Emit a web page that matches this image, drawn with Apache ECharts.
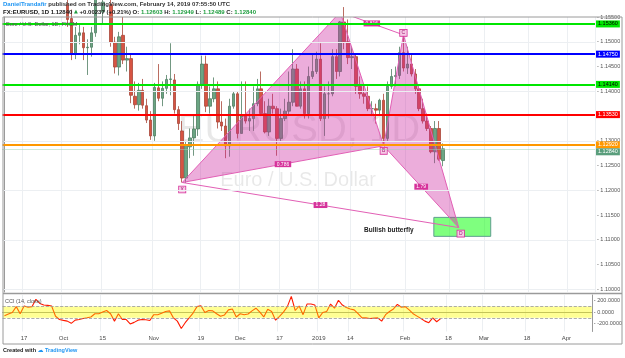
<!DOCTYPE html>
<html><head><meta charset="utf-8">
<script src="https://cdn.jsdelivr.net/npm/echarts@6/dist/echarts.min.js"></script>
<style>html,body{margin:0;padding:0;background:#fff}#c{width:625px;height:358px}</style>
</head><body><div id="c"></div>
<script>
// ---------- DATA ----------
const firstDate = '2018-09-10';
const barCount = 150;               // visible daily slots incl. future space
const holidays = ['2018-12-25', '2019-01-01'];

const tickDates  = ['2018-09-17','2018-10-01','2018-10-15','2018-11-01','2018-11-19','2018-12-03','2018-12-17','2019-01-02','2019-01-14','2019-02-01','2019-02-18','2019-03-01','2019-03-18','2019-04-01'];
const tickLabels = ['17','Oct','15','Nov','19','Dec','17','2019','14','Feb','18','Mar','18','Apr'];

const opens  = [1.1560,1.1595,1.1600,1.1625,1.1690,1.1625,1.1685,1.1665,1.1670,1.1775,1.1750,1.1745,1.1765,1.1740,1.1640,
  1.1605,1.1575,1.1547,1.1476,1.1513,1.1518,1.1488,1.1489,1.1518,1.1595,1.1560,1.1580,1.1575,1.1499,1.1449,1.1513,1.1463,1.1466,1.1390,1.1373,1.1402,1.1371,1.1342,
  1.1310,1.1407,1.1386,1.1406,1.1424,1.1423,1.1363,1.1320,1.1225,1.1288,1.1306,1.1324,1.1414,1.1455,1.1370,1.1385,1.1405,1.1338,1.1330,1.1290,1.1370,1.1395,
  1.1315,1.1350,1.1340,1.1345,1.1375,1.1405,1.1355,1.1318,1.1370,1.1365,1.1305,1.1345,1.1360,1.1378,1.1445,1.1370,1.1405,1.1355,1.1430,1.1440,
  1.1465,1.1345,1.1395,1.1395,1.1470,1.1440,1.1540,1.1500,1.1468,1.1470,1.1410,1.1395,1.1390,1.1365,1.1365,1.1362,1.1382,1.1305,1.1410,1.1430,1.1432,1.1478,
  1.1447,1.1455,1.1435,1.1405,1.1365,1.1340,1.1325,1.1278,1.1325,1.12603];
const highs  = [1.1610,1.1615,1.1630,1.1700,1.1720,1.1690,1.1700,1.1700,1.1790,1.1790,1.1815,1.1780,1.1795,1.1750,1.1660,
  1.1625,1.1590,1.1565,1.1530,1.1535,1.1530,1.1505,1.1530,1.1600,1.1605,1.1590,1.1620,1.1585,1.1510,1.1520,1.1550,1.1490,1.1475,1.1420,1.1417,1.1425,1.1385,1.1360,
  1.1417,1.1455,1.1420,1.1433,1.1497,1.1435,1.1370,1.1340,1.1300,1.1325,1.1350,1.1420,1.1472,1.1472,1.1410,1.1428,1.1420,1.1380,1.1345,1.1385,1.1400,1.1400,
  1.1420,1.1420,1.1365,1.1410,1.1425,1.1440,1.1380,1.1385,1.1395,1.1370,1.1365,1.1385,1.1440,1.1485,1.1455,1.1420,1.1420,1.1450,1.1475,1.1480,
  1.1497,1.1410,1.1420,1.1485,1.1485,1.1542,1.1570,1.1545,1.1490,1.1475,1.1430,1.1415,1.1410,1.1380,1.1375,1.1385,1.1395,1.1420,1.1445,1.1450,1.1490,1.1514,
  1.1490,1.1475,1.1445,1.1410,1.1385,1.1355,1.1330,1.1340,1.1340,1.12949];
const lows   = [1.1560,1.1565,1.1570,1.1590,1.1620,1.1610,1.1640,1.1650,1.1665,1.1730,1.1735,1.1725,1.1720,1.1630,1.1595,
  1.1565,1.1530,1.1463,1.1465,1.1495,1.1463,1.1433,1.1470,1.1510,1.1555,1.1535,1.1565,1.1490,1.1436,1.1432,1.1455,1.1440,1.1376,1.1365,1.1361,1.1365,1.1336,1.1302,
  1.1300,1.1380,1.1370,1.1395,1.1392,1.1355,1.1322,1.1216,1.1215,1.1265,1.1270,1.1310,1.1405,1.1358,1.1355,1.1378,1.1325,1.1320,1.1265,1.1268,1.1365,1.1305,
  1.1315,1.1335,1.1320,1.1320,1.1370,1.1350,1.1315,1.1310,1.1355,1.1270,1.1300,1.1340,1.1350,1.1370,1.1375,1.1365,1.1345,1.1345,1.1425,1.1435,
  1.1340,1.1310,1.1345,1.1390,1.1425,1.1430,1.1485,1.1455,1.1445,1.1395,1.1385,1.1375,1.1360,1.1350,1.1335,1.1350,1.1290,1.1300,1.1405,1.1410,1.1425,1.1440,
  1.1435,1.1430,1.1395,1.1360,1.1335,1.1320,1.1275,1.1255,1.1260,1.12489];
const closes = [1.1595,1.1600,1.1625,1.1690,1.1625,1.1685,1.1665,1.1670,1.1775,1.1750,1.1745,1.1765,1.1740,1.1640,1.1605,
  1.1575,1.1545,1.1476,1.1513,1.1518,1.1488,1.1489,1.1518,1.1595,1.1560,1.1580,1.1575,1.1499,1.1449,1.1510,1.1463,1.1466,1.1392,1.1373,1.1402,1.1372,1.1342,1.1310,
  1.1408,1.1386,1.1406,1.1424,1.1425,1.1363,1.1335,1.1225,1.1291,1.1306,1.1324,1.1414,1.1455,1.1370,1.1385,1.1405,1.1338,1.1330,1.1290,1.1370,1.1395,1.1315,
  1.1350,1.1340,1.1345,1.1375,1.1405,1.1355,1.1318,1.1370,1.1365,1.1305,1.1345,1.1360,1.1378,1.1445,1.1370,1.1405,1.1355,1.1430,1.1440,1.1465,
  1.1345,1.1395,1.1395,1.1470,1.1440,1.1540,1.1500,1.1468,1.1470,1.1410,1.1395,1.1390,1.1365,1.1365,1.1362,1.1382,1.1305,1.1410,1.1430,1.1432,1.1478,1.1447,
  1.1455,1.1435,1.1405,1.1365,1.1340,1.1325,1.1278,1.1325,1.1263,1.12840];

const cci = [-62,-34,-6,96,-28,107,85,96,225,152,124,118,107,-73,-130,-145,-158,-197,-141,-130,-113,-100,-85,-28,-28,0,28,-28,-158,-28,
  -130,-130,-208,-180,-141,-130,-135,-146,-45,-45,-20,11,22,-101,-158,-287,-186,-101,-17,96,113,-6,28,22,-28,-73,-50,39,56,-85,
  -28,-45,-34,22,68,0,-85,51,11,-141,-73,0,96,276,28,107,-45,141,141,124,-101,-6,11,141,68,208,124,80,56,39,
  -28,-101,-101,-113,-105,-101,-158,-45,11,56,135,85,96,39,-28,-70,-113,-158,-186,-101,-169,-113];

const priceTicks = [1.100,1.105,1.110,1.115,1.120,1.125,1.130,1.135,1.140,1.145,1.150,1.155];
const cciTicks = [200, 0, -200];
const levels = [1.15360, 1.14750, 1.14140, 1.13530, 1.12920];
const lastPrice = 1.12840;

// harmonic pattern X, A, B, C, D (bar index, price)
const patternNames = ['X','A','B','C','D'];
const patternIdx   = [45, 85, 96, 101, 115];
const patternPrice = [1.1216, 1.1560, 1.1290, 1.1514, 1.1125];
const ratioLabels  = ['0.786','0.816','1.79','1.28'];   // XB, AC, BD, XD
const zoneIdx   = [108.7, 123.1];
const zonePrice = [1.11456, 1.11073];
const noteText = 'Bullish butterfly';
const notePos  = [97.3, 1.1120];

// ---------- BUILD ----------
function buildDates(start, count, skip) {
  const out = []; const d = new Date(start + 'T00:00:00Z');
  while (out.length < count) {
    const wd = d.getUTCDay(); const s = d.toISOString().slice(0, 10);
    if (wd !== 0 && wd !== 6 && !skip.includes(s)) out.push(s);
    d.setUTCDate(d.getUTCDate() + 1);
  }
  return out;
}
const dates = buildDates(firstDate, barCount, holidays);
const candles = opens.map((o, i) => [o, closes[i], lows[i], highs[i]]);
const isTick = (idx, val) => tickDates.includes(val);
const FONT = 'Liberation Sans';

const levelStyle = [
  {line:'#00e600', bg:'#00e600', fg:'#000'},
  {line:'#0000ff', bg:'#0000ff', fg:'#fff'},
  {line:'#00e600', bg:'#00e600', fg:'#000'},
  {line:'#ff0000', bg:'#ff0000', fg:'#fff'},
  {line:'#ff9800', bg:'#ff9800', fg:'#fff'}
];

const pinkFill = 'rgba(204,40,160,0.38)';
const pinkLine = '#e25fb5';
const magenta = '#d6339b';

function renderPattern(params, api) {
  if (params.dataIndex !== 0) return null;
  const P = patternIdx.map((x, k) => api.coord([x, patternPrice[k]]));
  const [X, A, B, C, D] = P;
  const mid = (p, q) => [(p[0] + q[0]) / 2, (p[1] + q[1]) / 2];
  const z0 = api.coord([zoneIdx[0], zonePrice[0]]);
  const z1 = api.coord([zoneIdx[1], zonePrice[1]]);
  const children = [];
  children.push({type:'rect', shape:{x:z0[0], y:z0[1], width:z1[0]-z0[0], height:z1[1]-z0[1]},
    style:{fill:'rgba(0,255,0,0.5)', stroke:'#5f9e8f', lineWidth:1}});
  children.push({type:'polygon', shape:{points:[X, A, B]}, style:{fill:pinkFill, stroke:pinkLine, lineWidth:1}});
  children.push({type:'polygon', shape:{points:[B, C, D]}, style:{fill:pinkFill, stroke:pinkLine, lineWidth:1}});
  children.push({type:'polyline', shape:{points:[X, D]}, style:{fill:null, stroke:pinkLine, lineWidth:1}});
  children.push({type:'polyline', shape:{points:[A, C]}, style:{fill:null, stroke:pinkLine, lineWidth:1}});
  const mids = [mid(X, B), mid(A, C), mid(B, D), mid(X, D)];
  mids.forEach((m, k) => children.push({type:'text', x:m[0], y:m[1], style:{
    text:ratioLabels[k], fill:'#fff', backgroundColor:magenta, padding:[1,2,0,2],
    font:'5px ' + FONT, align:'center', verticalAlign:'middle'}}));
  const off = [7, -8, 5, -2, 6];
  P.forEach((p, k) => children.push({type:'text', x:p[0] + (k===4?2:0), y:p[1] + off[k], style:{
    text:patternNames[k], fill:'#a0186f', backgroundColor:'#f6c9e6', borderColor:magenta, borderWidth:0.8,
    padding:[1,1.5,0,1.5], font:'5px ' + FONT, align:'center', verticalAlign:'middle'}}));
  const n = api.coord(notePos);
  children.push({type:'text', x:n[0], y:n[1], style:{text:noteText, fill:'#1b1b1b',
    font:'bold 6.5px ' + FONT, align:'center', verticalAlign:'middle'}});
  return {type:'group', children};
}

const chart = echarts.init(document.getElementById('c'));
chart.setOption({
  animation: false,
  backgroundColor: '#fff',
  textStyle: {fontFamily: FONT},
  title: [
    {left:3, top:1, padding:0, text:'{a|DanielTrandafir} {b|published on TradingView.com, February 14, 2019 07:55:50 UTC}',
      textStyle:{fontSize:6, rich:{a:{color:'#2196f3',fontSize:6,fontFamily:FONT}, b:{color:'#333',fontSize:6,fontFamily:FONT}}}},
    {left:3, top:9, padding:0, text:'{k|FX:EURUSD, 1D} {b|1.12840} {t|▲} {b|+0.00237 (+0.21%)} {b|O:} {g|1.12603} {b|H:} {g|1.12949} {b|L:} {g|1.12489} {b|C:} {g|1.12840}',
      textStyle:{fontSize:6, rich:{k:{color:'#111',fontWeight:'bold',fontSize:6,fontFamily:FONT}, b:{color:'#222',fontSize:6,fontFamily:FONT},
        g:{color:'#1f9d3f',fontSize:6,fontFamily:FONT}, t:{color:'#1f9d3f',fontSize:5,fontFamily:'DejaVu Sans'}}}},
    {left:6, top:21, padding:0, text:'Euro / U.S. Dollar, 1D, FXCM', textStyle:{fontSize:5.5, color:'#555', fontWeight:'normal', fontFamily:FONT}},
    {left:5, top:298, padding:0, text:'CCI (14, close)', textStyle:{fontSize:5.5, color:'#555', fontWeight:'normal', fontFamily:FONT}},
    {left:3, top:347, padding:0, text:'{a|Created with} {c|☁} {b|TradingView}',
      textStyle:{fontSize:5.5, rich:{a:{color:'#222',fontSize:5.5,fontWeight:'bold',fontFamily:FONT}, b:{color:'#2196f3',fontSize:5.5,fontFamily:FONT},
        c:{color:'#2196f3',fontSize:6,fontFamily:'DejaVu Sans'}}}}
  ],
  graphic: [
    {type:'text', z:0, x:299, y:131, style:{text:'EURUSD, 1D', font:'40px ' + FONT, fill:'rgba(0,0,0,0.09)', align:'center', verticalAlign:'middle'}},
    {type:'text', z:0, x:298, y:180, style:{text:'Euro / U.S. Dollar', font:'20px ' + FONT, fill:'rgba(0,0,0,0.09)', align:'center', verticalAlign:'middle'}},
    {type:'rect', z:10, shape:{x:3, y:17, width:619, height:327}, style:{fill:null, stroke:'#9a9a9a', lineWidth:1}},
    {type:'line', z:10, shape:{x1:3, y1:293.5, x2:622, y2:293.5}, style:{stroke:'#9a9a9a', lineWidth:1.5}}
  ],
  grid: [
    {left:2.5, width:592.5, top:17, height:275},
    {left:2.5, width:592.5, top:295, height:36.5}
  ],
  xAxis: [
    {type:'category', gridIndex:0, data:dates, boundaryGap:true, axisLine:{show:false}, axisTick:{show:false}, axisLabel:{show:false},
      splitLine:{show:true, interval:isTick, lineStyle:{color:'#eceff2', width:1}}},
    {type:'category', gridIndex:1, data:dates, boundaryGap:true, axisLine:{show:true, lineStyle:{color:'#9a9a9a'}}, axisTick:{show:false},
      axisLabel:{show:true, interval:isTick, formatter:(v) => tickLabels[tickDates.indexOf(v)], fontSize:6, color:'#4a4a4a', margin:4},
      splitLine:{show:true, interval:isTick, lineStyle:{color:'#eceff2', width:1}}},
    {type:'value', gridIndex:0, min:-0.5, max:barCount - 0.5, show:false}
  ],
  yAxis: [
    {type:'value', gridIndex:0, position:'right', min:1.0995, max:1.155, interval:0.0005,
      axisLine:{show:true, lineStyle:{color:'#9a9a9a'}}, axisTick:{show:false}, splitLine:{show:false},
      axisLabel:{fontSize:5.5, color:'#555', margin:2, formatter:(v) => {
        const k = Math.round(v * 200); return Math.abs(v * 200 - k) < 1e-6 ? '- ' + v.toFixed(5) : ''; }}},
    {type:'value', gridIndex:1, position:'right', min:-340, max:300, interval:20,
      axisLine:{show:true, lineStyle:{color:'#9a9a9a'}}, axisTick:{show:false}, splitLine:{show:false},
      axisLabel:{fontSize:5.5, color:'#555', margin:2, formatter:(v) => cciTicks.includes(v) ? '- ' + v.toFixed(4) : ''}}
  ],
  visualMap: {type:'piecewise', show:false, seriesIndex:3, dimension:1,
    pieces:[{gt:100, color:'#ff1a00'}, {lt:-100, color:'#ff1a00'}, {gte:-100, lte:100, color:'#ff6a00'}]},
  series: [
    {type:'line', xAxisIndex:0, yAxisIndex:0, data:[], z:1, silent:true,
      markLine:{symbol:['none','none'], silent:true, animation:false, label:{show:false},
        lineStyle:{color:'#eceff2', width:1, type:'solid'}, data: priceTicks.map(v => ({yAxis:v}))}},
    {type:'candlestick', xAxisIndex:0, yAxisIndex:0, data:candles, barWidth:3, clip:true, z:3,
      itemStyle:{color:'#6ba583', color0:'#d75442', borderColor:'#4f7d62', borderColor0:'#a8473a', borderWidth:0.8},
      markLine:{symbol:['none','none'], silent:true, animation:false, precision:5,
        data: levels.map((v, k) => ({yAxis:v, lineStyle:{color:levelStyle[k].line, width:2, type:'solid'},
          label:{show:true, position:'end', formatter:v.toFixed(5), backgroundColor:levelStyle[k].bg, color:levelStyle[k].fg,
            fontSize:5.5, padding:[1,2,0,2], distance:1}})).concat([
          {yAxis:lastPrice, lineStyle:{color:'#9fd3b4', width:1, type:'dotted'},
            label:{show:true, position:'end', formatter:lastPrice.toFixed(5), backgroundColor:'#5a9e7c', color:'#fff',
              fontSize:5.5, padding:[1,2,0,2], distance:1, offset:[0,3]}}])}},
    {type:'custom', xAxisIndex:2, yAxisIndex:0, clip:true, z:4, silent:true,
      data: patternIdx.map((x, k) => [x, patternPrice[k]]), renderItem: renderPattern},
    {type:'line', xAxisIndex:1, yAxisIndex:1, data:cci, symbol:'none', lineStyle:{width:1.1}, z:3,
      markArea:{silent:true, itemStyle:{color:'rgba(255,255,0,0.42)'}, data:[[{yAxis:100}, {yAxis:-100}]]},
      markLine:{symbol:['none','none'], silent:true, label:{show:false}, lineStyle:{color:'#999', width:0.8, type:'dashed'},
        data:[{yAxis:100}, {yAxis:-100}]}}
  ]
});
</script></body></html>
